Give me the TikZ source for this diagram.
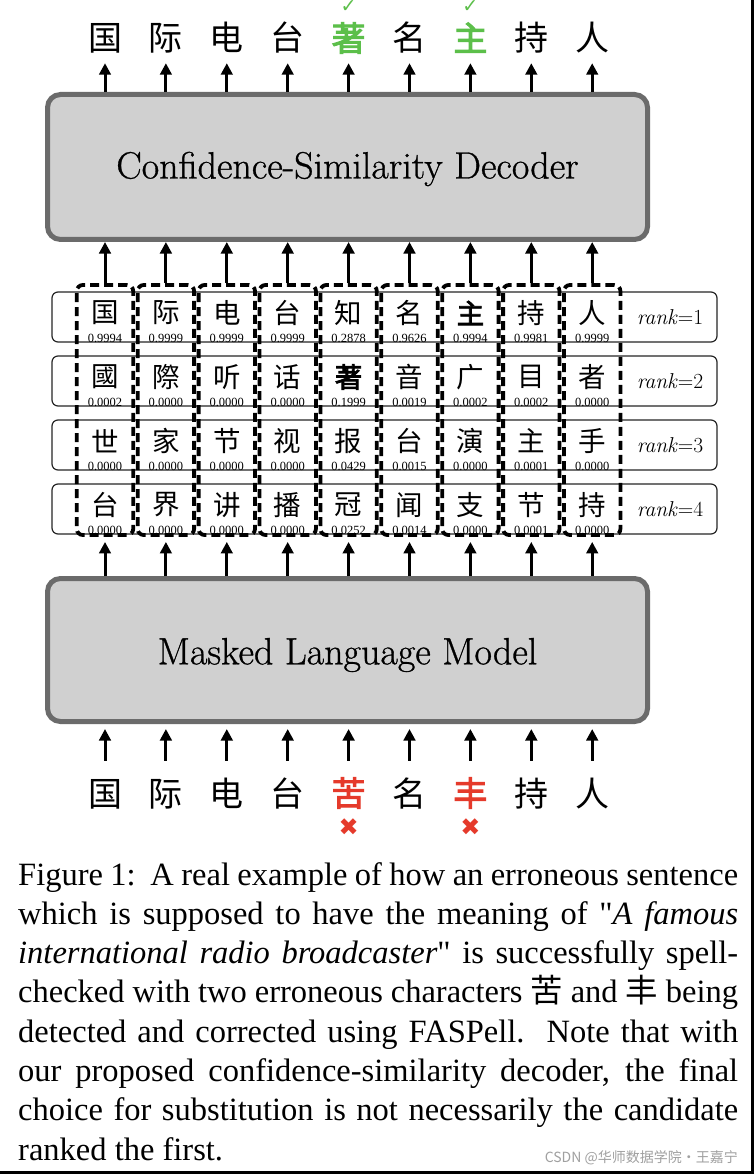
\documentclass[tikz,border=0pt]{standalone}
\usepackage{fontspec}
\usetikzlibrary{arrows.meta}
\newfontfamily\cjk{Noto Sans CJK SC}
\newfontfamily\cjkb[FakeBold=3]{Noto Sans CJK SC}
\newfontfamily\tms{Liberation Serif}
\newfontfamily\tmsc{Liberation Serif}
\newfontfamily\lmh[FakeBold=0.8]{Latin Modern Roman}
\newfontfamily\dv{DejaVu Sans}
\definecolor{boxfill}{HTML}{D0D0D0}
\definecolor{boxline}{HTML}{6B6B6B}
\definecolor{okgreen}{HTML}{5CBF4A}
\definecolor{errred}{HTML}{E53A2B}
\definecolor{wmgray}{HTML}{A0A0A0}
\tikzset{
  bigbox/.style={draw=boxline, fill=boxfill, line width=5pt, rounded corners=13pt,
    minimum width=600pt, inner sep=0pt},
  boxtext/.style={font=\lmh\fontsize{38}{44}\selectfont},
  bigch/.style={font=\cjk\fontsize{34}{34}\selectfont, inner sep=0pt, text height=30pt, text depth=4pt},
  candch/.style={font=\cjk\fontsize{27.5}{28}\selectfont, inner sep=0pt},
  prob/.style={font=\tms\fontsize{12.5}{13}\selectfont, inner sep=0pt},
  rowbox/.style={draw=black!85, line width=1.2pt, rounded corners=6pt, minimum width=665pt,
    minimum height=50pt, inner sep=0pt},
  colbox/.style={draw=black, line width=3.8pt, dash pattern=on 9pt off 5pt, rounded corners=6pt,
    minimum width=56.4pt, minimum height=250pt, inner sep=0pt},
  ranklab/.style={font=\fontsize{21.5}{24}\selectfont, inner sep=0pt},
  arr/.style={line width=3pt, -{Triangle[width=11.5pt,length=11.5pt]}},
  captext/.style={font=\tmsc\fontsize{32.5}{38}\selectfont, inner sep=0pt, anchor=base west},
  okmark/.style={font=\dv\fontsize{19}{19}\selectfont, text=okgreen, inner sep=0pt},
  errmark/.style={font=\dv\fontsize{24}{24}\selectfont, text=errred, inner sep=0pt},
}
\begin{document}
\begin{tikzpicture}[x=1pt,y=-1pt]
\useasboundingbox (0,0) rectangle (754,1174);
\fill[white] (0,0) rectangle (754,1174);
% big boxes
\node[bigbox, minimum height=145pt] (dec) at (347.5,167) {};
\node[boxtext] (dectext) at (347.5,169) {Confidence-Similarity Decoder};
\node[bigbox, minimum height=143pt] (mlm) at (347.5,650) {};
\node[boxtext] (mlmtext) at (347.5,655) {Masked Language Model};
% candidate rows
\foreach \r/\top in {1/292,2/356,3/420,4/484}{
  \node[rowbox] (row\r) at (384.5,\top+25) {};
  \node[ranklab] (rank\r) at (670,\top+25) {\textit{rank}=\r};
}
% columns
\foreach \i in {1,...,9}{
  \node[colbox] (col\i) at ({105+60.9*(\i-1)},410) {};
}
% row 1
\foreach \i/\ch/\p in {1/国/0.9994,2/际/0.9999,3/电/0.9999,4/台/0.9999,5/知/0.2878,6/名/0.9626,7/{\cjkb 主}/0.9994,8/持/0.9981,9/人/0.9999}{
  \node[candch] (ra\i) at ({105+60.9*(\i-1)},313) {\ch};
  \node[prob] (pa\i) at ({105+60.9*(\i-1)},338) {\p};
}
% row 2
\foreach \i/\ch/\p in {1/國/0.0002,2/際/0.0000,3/听/0.0000,4/话/0.0000,5/{\cjkb 著}/0.1999,6/音/0.0019,7/广/0.0002,8/目/0.0002,9/者/0.0000}{
  \node[candch] (rb\i) at ({105+60.9*(\i-1)},377) {\ch};
  \node[prob] (pb\i) at ({105+60.9*(\i-1)},402) {\p};
}
% row 3
\foreach \i/\ch/\p in {1/世/0.0000,2/家/0.0000,3/节/0.0000,4/视/0.0000,5/报/0.0429,6/台/0.0015,7/演/0.0000,8/主/0.0001,9/手/0.0000}{
  \node[candch] (rc\i) at ({105+60.9*(\i-1)},441) {\ch};
  \node[prob] (pc\i) at ({105+60.9*(\i-1)},466) {\p};
}
% row 4
\foreach \i/\ch/\p in {1/台/0.0000,2/界/0.0000,3/讲/0.0000,4/播/0.0000,5/冠/0.0252,6/闻/0.0014,7/支/0.0000,8/节/0.0001,9/持/0.0000}{
  \node[candch] (rd\i) at ({105+60.9*(\i-1)},505) {\ch};
  \node[prob] (pd\i) at ({105+60.9*(\i-1)},530) {\p};
}
% top output characters
\foreach \i/\ch/\col in {1/国/black,2/际/black,3/电/black,4/台/black,5/{\cjkb 著}/okgreen,6/名/black,7/{\cjkb 主}/okgreen,8/持/black,9/人/black}{
  \node[bigch, text=\col] (t\i) at ({105+60.9*(\i-1)},38) {\ch};
  \draw[arr, shorten >=8pt] (dec.north -| t\i) -- (t\i.south);
  \draw[arr] (col\i.north) -- (dec.south -| col\i);
  \draw[arr, shorten >=5pt] (mlm.north -| col\i) -- (col\i.south);
}
\node[okmark] (ok1) at (t5 |- 0,7) {✓};
\node[okmark] (ok2) at (t7 |- 0,7) {✓};
% bottom input characters
\foreach \i/\ch/\col in {1/国/black,2/际/black,3/电/black,4/台/black,5/{\cjkb 苦}/errred,6/名/black,7/{\cjkb 丰}/errred,8/持/black,9/人/black}{
  \node[bigch, text=\col] (b\i) at ({105+60.9*(\i-1)},793) {\ch};
  \draw[arr, shorten <=15pt, shorten >=5pt] (b\i.north) -- (mlm.south -| b\i);
}
\node[errmark] (x1) at (b5 |- 0,827) {✖};
\node[errmark] (x2) at (b7 |- 0,827) {✖};
% caption
\node[captext] (c1) at (18,885) {\makebox[720pt][s]{Figure 1:\ \ A real example of how an erroneous sentence}};
\node[captext] (c2) at (18,924.3) {\makebox[720pt][s]{which is supposed to have the meaning of "\textit{A famous}}};
\node[captext] (c3) at (18,963.6) {\makebox[720pt][s]{\textit{international radio broadcaster}" is successfully spell-}};
\node[captext] (c4) at (18,1002.9) {\makebox[720pt][s]{checked with two erroneous characters {\cjk 苦} and {\cjk 丰} being}};
\node[captext] (c5) at (18,1042.2) {\makebox[720pt][s]{detected and corrected using FASPell.\ \ Note that with}};
\node[captext] (c6) at (18,1081.5) {\makebox[720pt][s]{our proposed confidence-similarity decoder, the final}};
\node[captext] (c7) at (18,1120.8) {\makebox[720pt][s]{choice for substitution is not necessarily the candidate}};
\node[captext] (c8) at (18,1160.1) {ranked the first.};
% watermark
\node[font=\cjk\fontsize{14}{14}\selectfont, text=wmgray, inner sep=0pt, anchor=east] (wm) at (738,1158) {CSDN @华师数据学院·王嘉宁};
% frame edges
\draw[line width=3pt] (752.5,0) -- (752.5,1172.5) -- (0,1172.5);
\end{tikzpicture}
\end{document}
